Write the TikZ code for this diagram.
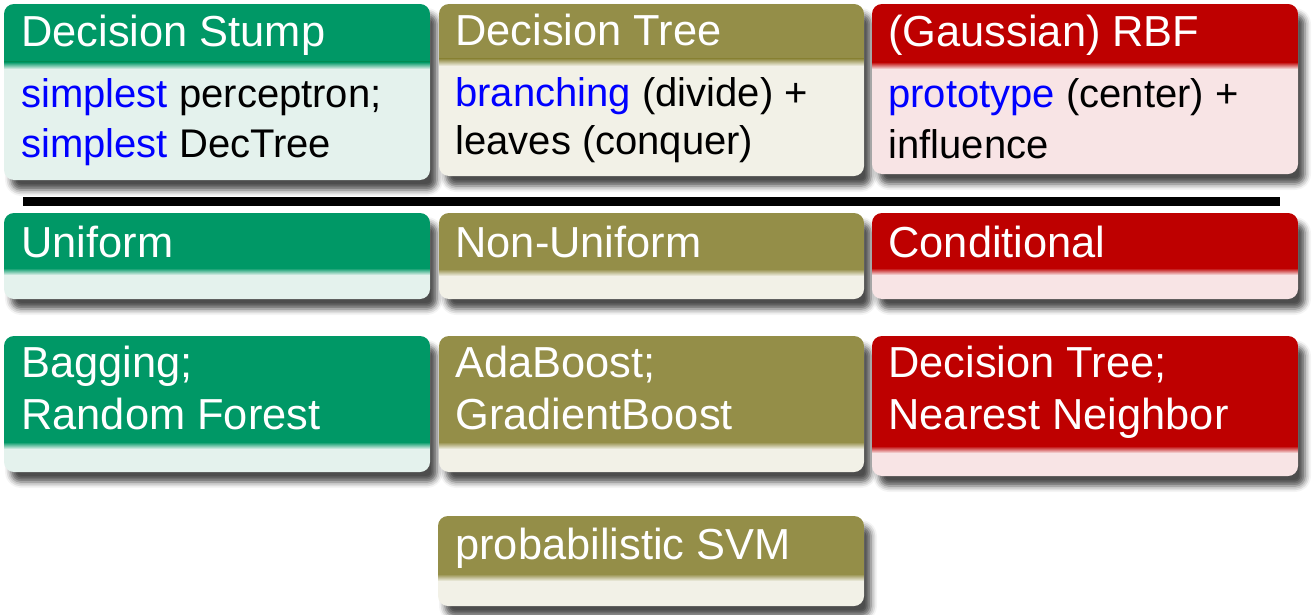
\documentclass[tikz,border=0pt]{standalone}
\usepackage{fontspec}
\setmainfont{Liberation Sans}
\usetikzlibrary{shadows.blur}

\definecolor{grTitle}{RGB}{0,152,102}
\definecolor{grBody}{RGB}{228,242,237}
\definecolor{olTitle}{RGB}{148,142,72}
\definecolor{olBody}{RGB}{242,241,231}
\definecolor{rdTitle}{RGB}{190,0,0}
\definecolor{rdBody}{RGB}{248,228,229}

\newcommand{\emphb}[1]{\textcolor{blue}{#1}}

% block: colour prefix, x1, y1, x2, y2, bottom of title bar
\newcommand{\ablock}[6]{%
  \fill[#1Body, rounded corners=5pt, blur shadow={shadow xshift=3.5pt, shadow yshift=-5pt, shadow blur radius=3pt, shadow opacity=70}] (#2,#3) rectangle (#4,#5);
  \begin{scope}
    \clip[rounded corners=5pt] (#2,#3) rectangle (#4,#5);
    \fill[#1Title] (#2,#3) rectangle (#4,#6);
    \shade[top color=#1Title, bottom color=#1Body] (#2,#6) rectangle (#4,#6+7);
  \end{scope}}

\begin{document}
\begin{tikzpicture}[x=0.5pt, y=-0.5pt,
  ttl/.style={anchor=base west, text=white, inner sep=0pt, font=\fontsize{21.7}{26}\selectfont},
  txt/.style={anchor=base west, text=black, inner sep=0pt, font=\fontsize{20}{24}\selectfont}]
  \useasboundingbox (0,0) rectangle (1316,615);

  % first row
  \ablock{gr}{4}{4}{430}{180}{62}
  \ablock{ol}{439}{4}{864}{176}{59}
  \ablock{rd}{872}{4}{1298}{174}{62}
  \node[ttl] (stump) at (21,47) {Decision Stump};
  \node[txt] (stumpA) at (21,108) {\emphb{simplest} perceptron;};
  \node[txt] (stumpB) at (21,157) {\emphb{simplest} DecTree};
  \node[ttl] (tree) at (455,46) {Decision Tree};
  \node[txt] (treeA) at (455,106) {\emphb{branching} (divide) +};
  \node[txt] (treeB) at (455,155) {leaves (conquer)};
  \node[ttl] (rbf) at (888,47) {(Gaussian) RBF};
  \node[txt] (rbfA) at (888,108) {\emphb{prototype} (center) +};
  \node[txt] (rbfB) at (888,158) {influence};

  \draw[line width=4.5pt] (23,201) -- (1280,201);

  % second row
  \ablock{gr}{4}{213}{430}{299}{268}
  \ablock{ol}{439}{213}{864}{299}{269}
  \ablock{rd}{872}{213}{1298}{299}{268}
  \node[ttl] (unif) at (21,257) {Uniform};
  \node[ttl] (nonunif) at (455,257) {Non-Uniform};
  \node[ttl] (cond) at (888,257) {Conditional};

  % third row
  \ablock{gr}{4}{336}{430}{472}{442}
  \ablock{ol}{439}{336}{864}{472}{442}
  \ablock{rd}{872}{336}{1298}{476}{446}
  \node[ttl] (bagA) at (21,377) {Bagging;};
  \node[ttl] (bagB) at (21,429) {Random Forest};
  \node[ttl] (boostA) at (455,377) {AdaBoost;};
  \node[ttl] (boostB) at (455,429) {GradientBoost};
  \node[ttl] (dtA) at (888,377) {Decision Tree;};
  \node[ttl] (dtB) at (888,429) {Nearest Neighbor};

  % fourth row
  \ablock{ol}{438}{516}{864}{606}{574}
  \node[ttl] (svm) at (455,559) {probabilistic SVM};
\end{tikzpicture}
\end{document}
